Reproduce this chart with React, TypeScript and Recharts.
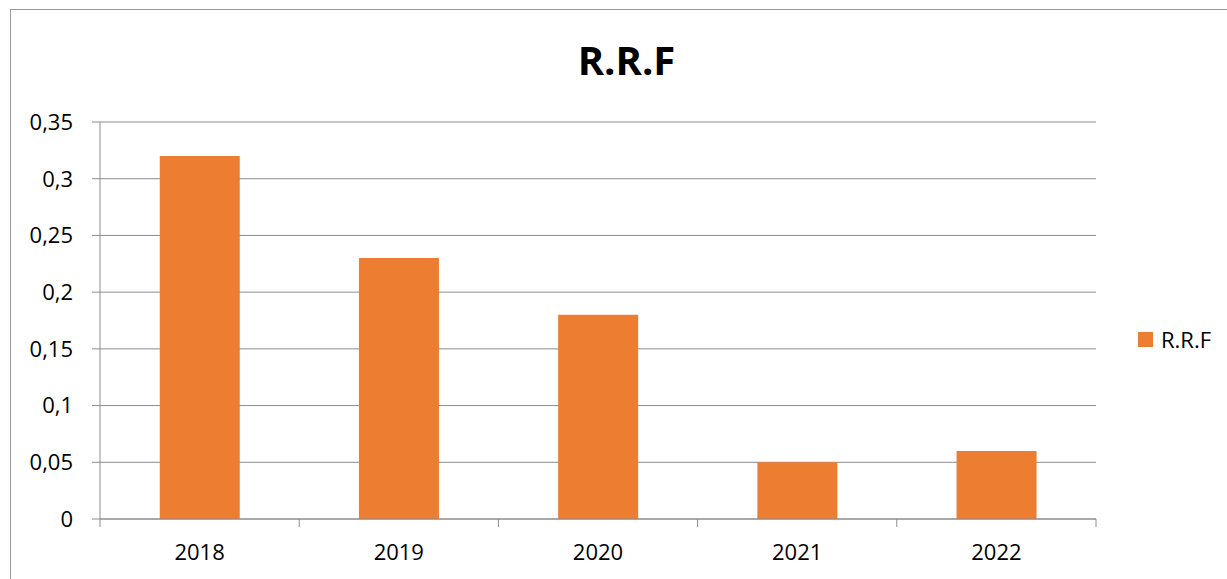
import { BarChart, Bar, XAxis, YAxis, CartesianGrid } from 'recharts';

const years = ['2018', '2019', '2020', '2021', '2022'];
const rrfValues = [0.32, 0.23, 0.18, 0.05, 0.06];
const yTicks = [0, 0.05, 0.1, 0.15, 0.2, 0.25, 0.3, 0.35];

const FONT = '"Open Sans", sans-serif';
const ORANGE = '#ED7D31';
const GRID = '#8c8c8c';

const data = years.map((year, i) => ({ year, rrf: rrfValues[i] }));

const commaDecimal = (v: number) => String(v).replace('.', ',');

// category label centered, tick marks on the band edges (Excel style)
function YearTick(props: any) {
  const { x, y, payload, index } = props;
  const half = payload.offset ?? 0;
  return (
    <g>
      <line x1={x - half} x2={x - half} y1={y} y2={y + 8} stroke={GRID} />
      {index === years.length - 1 && (
        <line x1={x + half} x2={x + half} y1={y} y2={y + 8} stroke={GRID} />
      )}
      <text x={x} y={y + 41} textAnchor="middle" fontFamily={FONT} fontSize={22} fill="#000">
        {payload.value}
      </text>
    </g>
  );
}

export default function App() {
  return (
    <div style={{ position: 'absolute', left: 0, top: 0, width: 1227, height: 579, overflow: 'hidden', background: '#fff' }}>
      <div
        style={{
          position: 'absolute',
          left: 10,
          top: 9,
          width: 1240,
          height: 600,
          border: '1px solid #9a9a9a',
        }}
      />
      <div
        style={{
          position: 'absolute',
          left: 0,
          width: 1253,
          top: 32,
          textAlign: 'center',
          fontFamily: FONT,
          fontWeight: 700,
          fontSize: 40,
          lineHeight: '56px',
          color: '#000',
        }}
      >
        R.R.F
      </div>
      <div style={{ position: 'absolute', left: 0, top: 0 }}>
        <BarChart
          width={1227}
          height={579}
          data={data}
          margin={{ top: 122, right: 131, bottom: 20, left: 0 }}
          barCategoryGap="30%"
        >
          <CartesianGrid vertical={false} stroke={GRID} strokeWidth={1} />
          <XAxis
            dataKey="year"
            height={40}
            axisLine={{ stroke: GRID }}
            tickLine={false}
            tickSize={0}
            tickMargin={0}
            interval={0}
            tick={<YearTick />}
          />
          <YAxis
            width={100}
            domain={[0, 0.35]}
            ticks={yTicks}
            interval={0}
            tickFormatter={commaDecimal}
            axisLine={{ stroke: GRID }}
            tickLine={{ stroke: GRID }}
            tickSize={8}
            tickMargin={19}
            tick={{ fontFamily: FONT, fontSize: 22, fill: '#000' }}
          />
          <Bar dataKey="rrf" name="R.R.F" fill={ORANGE} isAnimationActive={false} />
        </BarChart>
      </div>
      <div
        style={{
          position: 'absolute',
          left: 1138,
          top: 324,
          display: 'flex',
          alignItems: 'center',
          fontFamily: FONT,
          fontSize: 22,
          lineHeight: '30px',
          color: '#000',
        }}
      >
        <span style={{ width: 15, height: 15, background: ORANGE, display: 'inline-block', marginRight: 8 }} />
        R.R.F
      </div>
    </div>
  );
}
